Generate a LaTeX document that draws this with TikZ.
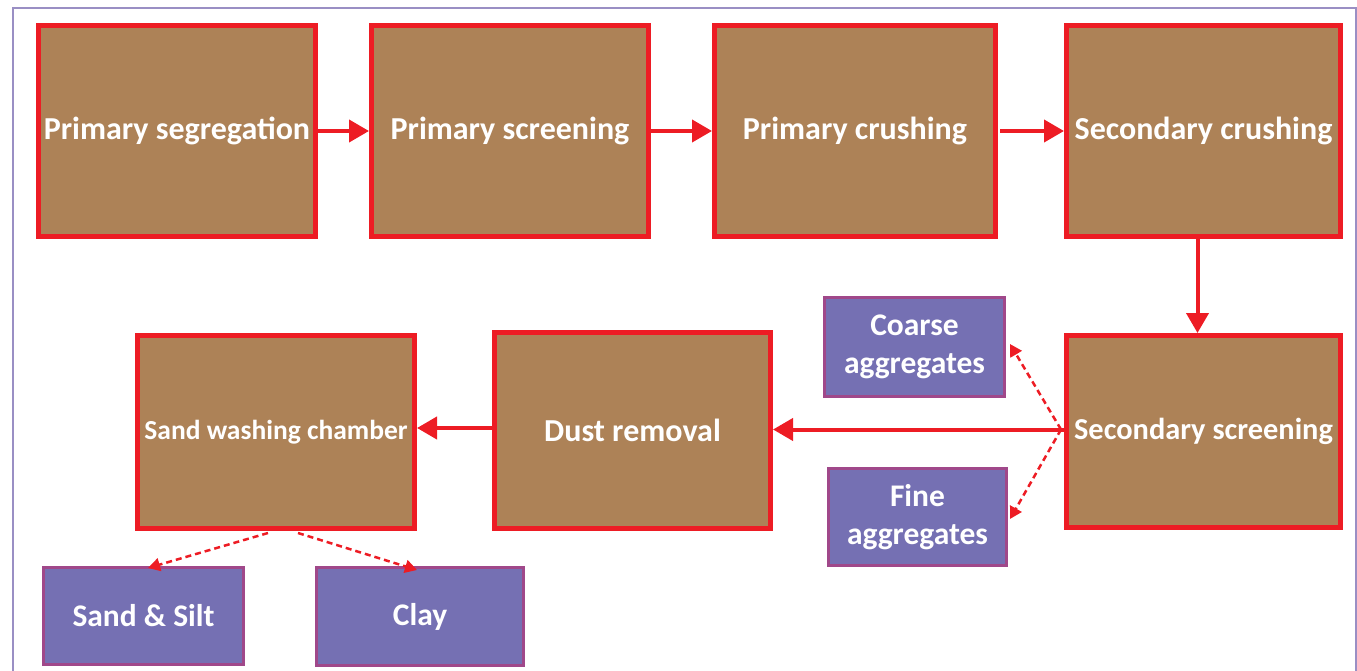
\documentclass[tikz,border=0pt]{standalone}
\usepackage{fontspec}
\setmainfont{Carlito}
\usetikzlibrary{arrows.meta}
\definecolor{flowred}{HTML}{ED1C24}
\definecolor{stagebrown}{HTML}{AD8257}
\definecolor{prodfill}{HTML}{7570B3}
\definecolor{prodedge}{HTML}{A0488A}
\definecolor{framelilac}{HTML}{9A8FC4}
\begin{document}
\begin{tikzpicture}[x=1pt,y=-1pt,
  stage/.style={draw=flowred,fill=stagebrown,line width=5pt,inner sep=0pt,
    text=white,font=\bfseries\fontsize{32}{36}\selectfont,align=center},
  product/.style={draw=prodedge,fill=prodfill,line width=3pt,inner sep=0pt,
    text=white,font=\bfseries\fontsize{31.5}{38}\selectfont,align=center},
  flow/.style={draw=flowred,line width=4pt,-{Triangle[length=20pt,width=22pt]}},
  split/.style={draw=flowred,line width=2.5pt,dash pattern=on 6pt off 4pt,
    -{Triangle[length=12pt,width=13pt]}}]
\useasboundingbox (0,0) rectangle (1357,671);
% outer frame
\draw[framelilac,line width=2pt] (13,8) rectangle (1356,700);
% process stages
\node[stage,minimum width=277pt,minimum height=211pt] (seg) at (177,131) {Primary segregation};
\node[stage,minimum width=277pt,minimum height=211pt] (pscr) at (510,131) {Primary screening};
\node[stage,minimum width=281pt,minimum height=211pt] (pcru) at (855,131) {Primary crushing};
\node[stage,minimum width=274pt,minimum height=211pt] (scru) at (1203.5,131) {Secondary crushing};
\node[stage,minimum width=274pt,minimum height=192pt,font=\bfseries\fontsize{30.4}{36}\selectfont] (sscr) at (1203.5,431.5) {Secondary screening};
\node[stage,minimum width=276pt,minimum height=196pt] (dust) at (632.5,430.5) {Dust removal};
\node[stage,minimum width=277pt,minimum height=193pt,font=\bfseries\fontsize{27.5}{30}\selectfont] (wash) at (276,432) {Sand washing chamber};
% products
\node[product,minimum width=180pt,minimum height=99pt] (coarse) at (914.5,347) {Coarse\\aggregates};
\node[product,minimum width=178pt,minimum height=97pt] (fine) at (917.5,517) {Fine\\aggregates};
\node[product,minimum width=200pt,minimum height=97pt] (silt) at (143.5,616) {Sand \& Silt};
\node[product,minimum width=207pt,minimum height=98pt] (clay) at (420,616.5) {Clay};
% main flow
\coordinate (ssout) at ([yshift=2pt]sscr.west);
\coordinate (dustout) at ([yshift=2.5pt]dust.west);
\draw[flow] (seg.east) -- (pscr.west);
\draw[flow] (pscr.east) -- (pcru.west);
\draw[flow] ([xshift=2pt]pcru.east) -- (scru.west);
\draw[flow] ([xshift=-6pt]scru.south) -- ([xshift=-6pt]sscr.north);
\draw[flow] (ssout) -- (ssout -| dust.east);
\draw[flow] (dustout) -- (dustout -| wash.east);
% by-products
\coordinate (ssfork) at ([xshift=-3pt]ssout);
\coordinate (coarsein) at ([xshift=4pt,yshift=3pt]coarse.east);
\coordinate (finein) at ([xshift=2pt,yshift=-2pt]fine.east);
\coordinate (washoutA) at (268,533);
\coordinate (washoutB) at (298,533);
\coordinate (siltin) at (148,568);
\coordinate (clayin) at (417,570);
\draw[split] (ssfork) -- (coarsein);
\draw[split] (ssfork) -- (finein);
\draw[split] (washoutA) -- (siltin);
\draw[split] (washoutB) -- (clayin);
\end{tikzpicture}
\end{document}
